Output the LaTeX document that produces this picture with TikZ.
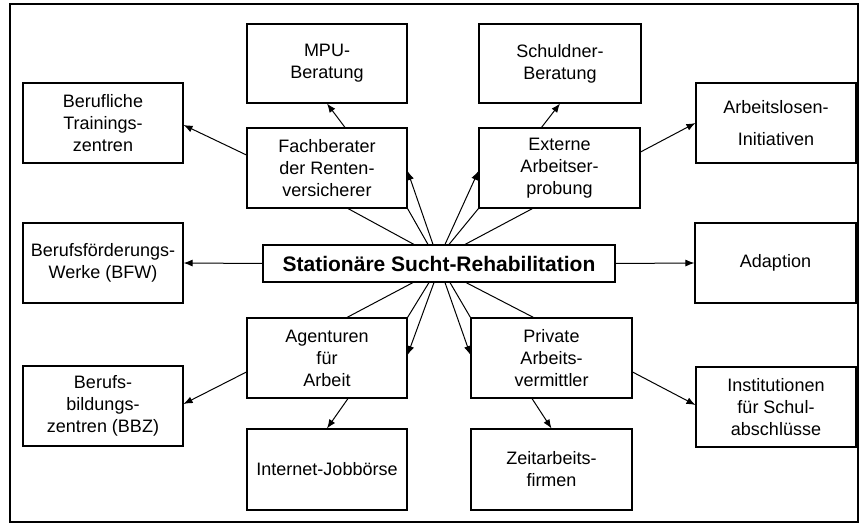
\documentclass[tikz,border=0pt]{standalone}
\usepackage{fontspec}
\setmainfont{Liberation Sans}
\usetikzlibrary{arrows.meta}

\begin{document}
\begin{tikzpicture}[x=1pt,y=-1pt,
  box/.style={draw, line width=1.1pt, minimum width=160pt, minimum height=80pt,
    inner sep=0pt, align=center, font=\fontsize{18}{22}\selectfont},
  hubbox/.style={draw, line width=1.1pt, minimum width=352pt, minimum height=37pt,
    inner sep=0pt, font=\fontsize{21}{25}\selectfont\bfseries},
  link/.style={line width=1pt},
  arr/.style={line width=1pt, -{Latex[length=9pt,width=7pt]}}]

% page and outer frame
\useasboundingbox (0,0) rectangle (860,526);
\fill[white] (0,0) rectangle (860,526);
\draw[line width=2pt] (10,4) rectangle (858,522);

% central box
\node[hubbox] (hub) at (439,263.5) {Stationäre Sucht-Rehabilitation};

% inner ring
\node[box] (fach)  at (327,168)   {Fachberater\\der Renten-\\versicherer};
\node[box, minimum width=161pt] (ext)   at (559.5,168) {Externe\\Arbeitser-\\probung};
\node[box] (agent) at (327,358)   {Agenturen\\für\\Arbeit};
\node[box, minimum width=161pt] (priv)  at (551.5,358) {Private\\Arbeits-\\vermittler};

% outer ring
\node[box] (berufl) at (103,123)   {Berufliche\\Trainings-\\zentren};
\node[box, minimum height=79pt] (mpu)    at (327,63.5)  {MPU-\\Beratung};
\node[box, minimum width=162pt, minimum height=79pt] (schuld) at (560,63.5) {Schuldner-\\Beratung};
\node[box] (arbl)   at (776,123)   {Arbeitslosen-\\[10pt]Initiativen};
\node[box] (bfw)    at (103,263)   {Berufsförderungs-\\Werke (BFW)};
\node[box, minimum width=161pt] (adapt)  at (775.5,263) {Adaption};
\node[box] (bbz)    at (103,406)   {Berufs-\\bildungs-\\zentren (BBZ)};
\node[box] (inst)   at (776,407)   {Institutionen\\für Schul-\\abschlüsse};
\node[box, minimum height=81pt] (inet)   at (327,469.5) {Internet-Jobbörse};
\node[box, minimum width=161pt, minimum height=81pt] (zeit) at (551.5,469.5) {Zeitarbeits-\\firmen};

% fan from the central box to the inner ring
\draw[link] ([xshift=-25pt]hub.north) -- ([xshift=21pt]fach.south);
\draw[link] ([xshift=-11pt]hub.north) -- (fach.south east);
\draw[arr]  ([xshift=-6pt]hub.north)  -- ([yshift=-3pt]fach.east);
\draw[arr]  ([xshift=6pt]hub.north)   -- ([yshift=-3pt]ext.west);
\draw[link] ([xshift=10pt]hub.north)  -- (ext.south west);
\draw[link] ([xshift=26pt]hub.north)  -- ([xshift=-27pt]ext.south);

\draw[link] ([xshift=-26pt]hub.south) -- ([xshift=20pt]agent.north);
\draw[link] ([xshift=-10pt]hub.south) -- (agent.north east);
\draw[arr]  ([xshift=-5pt]hub.south)  -- ([yshift=3pt]agent.east);
\draw[arr]  ([xshift=6pt]hub.south)   -- ([yshift=3pt]priv.west);
\draw[link] ([xshift=11pt]hub.south)  -- (priv.north west);
\draw[link] ([xshift=27pt]hub.south)  -- ([xshift=-18pt]priv.north);

% central box to the sides
\draw[arr] (hub.west) -- (bfw.east);
\draw[arr] (hub.east) -- (adapt.west);

% inner ring to the outer ring
\draw[arr] ([yshift=13pt]fach.west) -- ([yshift=-2pt]berufl.east);
\draw[arr] ([xshift=18pt]fach.north) -- (mpu.south);
\draw[arr] ([xshift=-18pt]ext.north) -- (schuld.south);
\draw[arr] ([yshift=16pt]ext.east) -- (arbl.west);
\draw[arr] ([yshift=-14pt]agent.west) -- ([yshift=2pt]bbz.east);
\draw[arr] ([xshift=21pt]agent.south) -- (inet.north);
\draw[arr] ([yshift=-14pt]priv.east) -- ([yshift=2pt]inst.west);
\draw[arr] ([xshift=-19.5pt]priv.south) -- (zeit.north);
\end{tikzpicture}
\end{document}
